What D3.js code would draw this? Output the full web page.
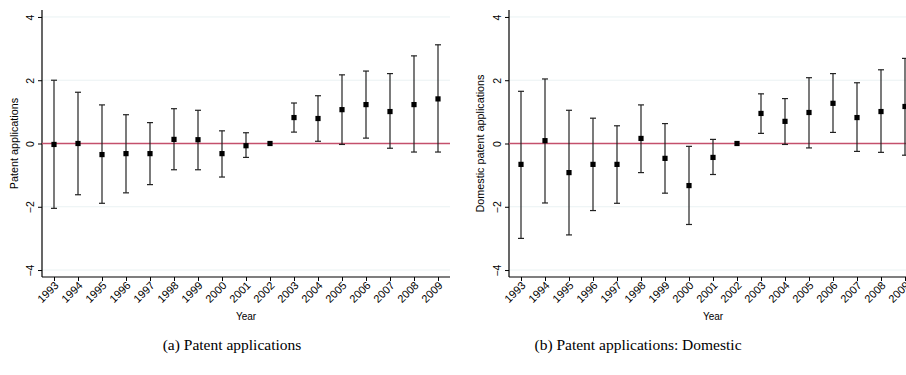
<!DOCTYPE html>
<html><head><meta charset="utf-8">
<script src="https://cdn.jsdelivr.net/npm/d3@7"></script>
<style>body{margin:0;background:#fff;overflow:hidden}svg{display:block}</style>
</head><body>
<svg id="c" width="906" height="375"></svg>
<script>
const years = [1993,1994,1995,1996,1997,1998,1999,2000,2001,2002,2003,2004,2005,2006,2007,2008,2009];
const yTicks = [-4,-2,0,2,4];

const patentEst   = [-0.03,0.00,-0.35,-0.32,-0.32,0.13,0.12,-0.32,-0.07,0,0.82,0.79,1.07,1.23,1.01,1.23,1.41];
const patentLow   = [-2.05,-1.62,-1.89,-1.56,-1.30,-0.83,-0.83,-1.06,-0.44,0,0.36,0.07,-0.03,0.17,-0.15,-0.27,-0.27];
const patentHigh  = [2.00,1.62,1.22,0.91,0.66,1.10,1.05,0.40,0.34,0,1.28,1.51,2.17,2.29,2.21,2.77,3.12];

const domEst  = [-0.66,0.09,-0.92,-0.66,-0.66,0.16,-0.47,-1.33,-0.44,0,0.95,0.70,0.98,1.27,0.82,1.01,1.17];
const domLow  = [-3.00,-1.88,-2.89,-2.12,-1.89,-0.92,-1.57,-2.56,-0.98,0,0.32,-0.03,-0.14,0.35,-0.25,-0.28,-0.37];
const domHigh = [1.65,2.04,1.05,0.80,0.56,1.22,0.63,-0.09,0.13,0,1.57,1.42,2.08,2.21,1.92,2.33,2.69];

const panels = [
  {left:42, title:"Patent applications", est:patentEst, lo:patentLow, hi:patentHigh, caption:"(a) Patent applications", ytx:15, capx:232},
  {left:509, title:"Domestic patent applications", est:domEst, lo:domLow, hi:domHigh, caption:"(b) Patent applications: Domestic", ytx:481, capx:638}
];

const svg = d3.select("#c");
const W = 408, plotTop = 10, plotBottom = 277;
const sans = "Liberation Sans, Arial, Helvetica, sans-serif";

panels.forEach(p => {
  const x = d3.scaleLinear().domain([1992.5, 2009.5]).range([p.left, p.left + W]);
  const y = d3.scaleLinear().domain([-4.22, 4.22]).range([plotBottom, plotTop]);
  const g = svg.append("g");

  g.selectAll(".grid").data(yTicks.filter(t => t !== 0)).enter().append("line")
    .attr("x1", p.left).attr("x2", p.left + W)
    .attr("y1", d => y(d)).attr("y2", d => y(d))
    .attr("stroke", "#eaf2f3").attr("stroke-width", 1);

  const ya = g.append("g").attr("transform", `translate(${p.left},0)`)
    .call(d3.axisLeft(y).tickValues(yTicks).tickSize(4).tickFormat(d3.format("d")));
  ya.select(".domain").attr("stroke", "#000").attr("stroke-width", 1.2).attr("d", `M0,${plotTop}V${plotBottom}`);
  ya.selectAll(".tick line").attr("stroke", "#000");
  ya.selectAll(".tick text").attr("font-family", sans).attr("font-size", 10.5).attr("fill", "#000")
    .attr("transform", "rotate(-90)").attr("x", 0).attr("y", -8).attr("dy", "0")
    .attr("text-anchor", "middle");

  const xa = g.append("g").attr("transform", `translate(0,${plotBottom})`)
    .call(d3.axisBottom(x).tickValues(years).tickSize(4).tickFormat(d3.format("d")));
  xa.select(".domain").attr("stroke", "#000").attr("stroke-width", 1.2).attr("d", `M${p.left},0H${p.left + W}`);
  xa.selectAll(".tick line").attr("stroke", "#000");
  xa.selectAll(".tick text").attr("font-family", sans).attr("font-size", 11).attr("fill", "#000")
    .attr("text-anchor", "end").attr("transform", "rotate(-45)").attr("x", -3).attr("y", 6).attr("dy", "0.35em");

  g.append("line").attr("x1", p.left).attr("x2", p.left + W)
    .attr("y1", y(0)).attr("y2", y(0)).attr("stroke", "#c4506c").attr("stroke-width", 1.4);

  const idx = d3.range(years.length).filter(i => p.hi[i] !== p.lo[i]);
  g.selectAll(".eb").data(idx).enter().append("line")
    .attr("x1", i => x(years[i])).attr("x2", i => x(years[i]))
    .attr("y1", i => y(p.lo[i])).attr("y2", i => y(p.hi[i]))
    .attr("stroke", "#222").attr("stroke-width", 1.2);
  [p.lo, p.hi].forEach(arr => {
    g.selectAll(null).data(idx).enter().append("line")
      .attr("x1", i => x(years[i]) - 3).attr("x2", i => x(years[i]) + 3)
      .attr("y1", i => y(arr[i])).attr("y2", i => y(arr[i]))
      .attr("stroke", "#222").attr("stroke-width", 1.2);
  });

  g.selectAll(".pt").data(years).enter().append("rect")
    .attr("x", (d, i) => x(d) - 2.6).attr("y", (d, i) => y(p.est[i]) - 2.6)
    .attr("width", 5.2).attr("height", 5.2).attr("fill", "#000");

  g.append("text").attr("transform", `translate(${p.ytx},${y(0)}) rotate(-90)`)
    .attr("text-anchor", "middle").attr("dominant-baseline", "middle")
    .attr("font-family", sans).attr("font-size", 10.8).text(p.title);

  g.append("text").attr("x", p.left + W / 2).attr("y", 320)
    .attr("text-anchor", "middle").attr("font-family", sans).attr("font-size", 10).text("Year");

  g.append("text").attr("x", p.capx).attr("y", 350)
    .attr("text-anchor", "middle").attr("font-family", "Liberation Serif, Times New Roman, serif")
    .attr("font-size", 15.5).text(p.caption);
});
</script>
</body></html>
